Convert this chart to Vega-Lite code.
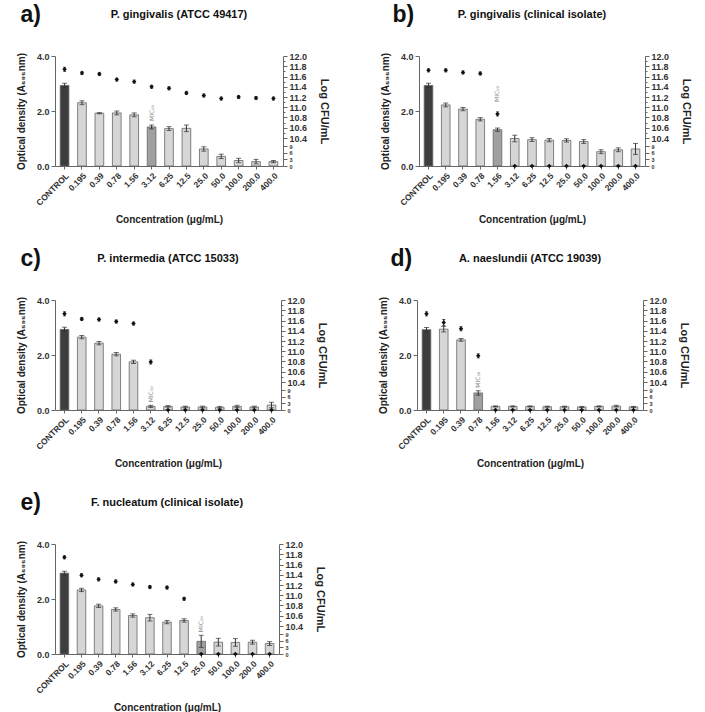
{
"$schema": "https://vega.github.io/schema/vega-lite/v6.json",
"padding": {"left": 16, "top": 4, "right": 2, "bottom": 4},
"background": "white",
"data": {"values": [
{"panel":"a","conc":"CONTROL","od":2.93,"od_err":0.08,"cfu":11.74,"cfu_err":0.04,"kind":"control","mic":false},
{"panel":"a","conc":"0.195","od":2.30,"od_err":0.07,"cfu":11.67,"cfu_err":0.03,"kind":"normal","mic":false},
{"panel":"a","conc":"0.39","od":1.92,"od_err":0.02,"cfu":11.65,"cfu_err":0.03,"kind":"normal","mic":false},
{"panel":"a","conc":"0.78","od":1.93,"od_err":0.07,"cfu":11.54,"cfu_err":0.03,"kind":"normal","mic":false},
{"panel":"a","conc":"1.56","od":1.86,"od_err":0.07,"cfu":11.50,"cfu_err":0.03,"kind":"normal","mic":false},
{"panel":"a","conc":"3.12","od":1.42,"od_err":0.07,"cfu":11.40,"cfu_err":0.03,"kind":"mic","mic":true},
{"panel":"a","conc":"6.25","od":1.36,"od_err":0.07,"cfu":11.37,"cfu_err":0.03,"kind":"normal","mic":false},
{"panel":"a","conc":"12.5","od":1.37,"od_err":0.12,"cfu":11.28,"cfu_err":0.03,"kind":"normal","mic":false},
{"panel":"a","conc":"25.0","od":0.62,"od_err":0.08,"cfu":11.23,"cfu_err":0.03,"kind":"normal","mic":false},
{"panel":"a","conc":"50.0","od":0.35,"od_err":0.08,"cfu":11.17,"cfu_err":0.03,"kind":"normal","mic":false},
{"panel":"a","conc":"100.0","od":0.20,"od_err":0.08,"cfu":11.20,"cfu_err":0.03,"kind":"normal","mic":false},
{"panel":"a","conc":"200.0","od":0.16,"od_err":0.08,"cfu":11.18,"cfu_err":0.03,"kind":"normal","mic":false},
{"panel":"a","conc":"400.0","od":0.16,"od_err":0.04,"cfu":11.17,"cfu_err":0.03,"kind":"normal","mic":false},
{"panel":"b","conc":"CONTROL","od":2.93,"od_err":0.08,"cfu":11.72,"cfu_err":0.03,"kind":"control","mic":false},
{"panel":"b","conc":"0.195","od":2.22,"od_err":0.07,"cfu":11.72,"cfu_err":0.03,"kind":"normal","mic":false},
{"panel":"b","conc":"0.39","od":2.07,"od_err":0.06,"cfu":11.68,"cfu_err":0.03,"kind":"normal","mic":false},
{"panel":"b","conc":"0.78","od":1.70,"od_err":0.06,"cfu":11.66,"cfu_err":0.03,"kind":"normal","mic":false},
{"panel":"b","conc":"1.56","od":1.32,"od_err":0.06,"cfu":10.87,"cfu_err":0.04,"kind":"mic","mic":true},
{"panel":"b","conc":"3.12","od":1.00,"od_err":0.12,"cfu":0,"cfu_err":0,"kind":"normal","mic":false},
{"panel":"b","conc":"6.25","od":0.96,"od_err":0.07,"cfu":0,"cfu_err":0,"kind":"normal","mic":false},
{"panel":"b","conc":"12.5","od":0.94,"od_err":0.06,"cfu":0,"cfu_err":0,"kind":"normal","mic":false},
{"panel":"b","conc":"25.0","od":0.93,"od_err":0.06,"cfu":0,"cfu_err":0,"kind":"normal","mic":false},
{"panel":"b","conc":"50.0","od":0.89,"od_err":0.07,"cfu":0,"cfu_err":0,"kind":"normal","mic":false},
{"panel":"b","conc":"100.0","od":0.52,"od_err":0.07,"cfu":0,"cfu_err":0,"kind":"normal","mic":false},
{"panel":"b","conc":"200.0","od":0.59,"od_err":0.07,"cfu":0,"cfu_err":0,"kind":"normal","mic":false},
{"panel":"b","conc":"400.0","od":0.62,"od_err":0.20,"cfu":0,"cfu_err":0,"kind":"normal","mic":false},
{"panel":"c","conc":"CONTROL","od":2.93,"od_err":0.08,"cfu":11.73,"cfu_err":0.04,"kind":"control","mic":false},
{"panel":"c","conc":"0.195","od":2.65,"od_err":0.06,"cfu":11.63,"cfu_err":0.03,"kind":"normal","mic":false},
{"panel":"c","conc":"0.39","od":2.43,"od_err":0.06,"cfu":11.62,"cfu_err":0.03,"kind":"normal","mic":false},
{"panel":"c","conc":"0.78","od":2.03,"od_err":0.06,"cfu":11.58,"cfu_err":0.03,"kind":"normal","mic":false},
{"panel":"c","conc":"1.56","od":1.75,"od_err":0.06,"cfu":11.54,"cfu_err":0.03,"kind":"normal","mic":false},
{"panel":"c","conc":"3.12","od":0.13,"od_err":0.04,"cfu":10.79,"cfu_err":0.04,"kind":"normal","mic":true},
{"panel":"c","conc":"6.25","od":0.13,"od_err":0.03,"cfu":0,"cfu_err":0,"kind":"normal","mic":false},
{"panel":"c","conc":"12.5","od":0.11,"od_err":0.03,"cfu":0,"cfu_err":0,"kind":"normal","mic":false},
{"panel":"c","conc":"25.0","od":0.11,"od_err":0.03,"cfu":0,"cfu_err":0,"kind":"normal","mic":false},
{"panel":"c","conc":"50.0","od":0.10,"od_err":0.03,"cfu":0,"cfu_err":0,"kind":"normal","mic":false},
{"panel":"c","conc":"100.0","od":0.13,"od_err":0.04,"cfu":0,"cfu_err":0,"kind":"normal","mic":false},
{"panel":"c","conc":"200.0","od":0.11,"od_err":0.03,"cfu":0,"cfu_err":0,"kind":"normal","mic":false},
{"panel":"c","conc":"400.0","od":0.18,"od_err":0.10,"cfu":0,"cfu_err":0,"kind":"normal","mic":false},
{"panel":"d","conc":"CONTROL","od":2.92,"od_err":0.08,"cfu":11.73,"cfu_err":0.04,"kind":"control","mic":false},
{"panel":"d","conc":"0.195","od":2.94,"od_err":0.10,"cfu":11.56,"cfu_err":0.06,"kind":"normal","mic":false},
{"panel":"d","conc":"0.39","od":2.55,"od_err":0.05,"cfu":11.44,"cfu_err":0.04,"kind":"normal","mic":false},
{"panel":"d","conc":"0.78","od":0.62,"od_err":0.08,"cfu":10.91,"cfu_err":0.04,"kind":"mic","mic":true},
{"panel":"d","conc":"1.56","od":0.13,"od_err":0.02,"cfu":0,"cfu_err":0,"kind":"normal","mic":false},
{"panel":"d","conc":"3.12","od":0.13,"od_err":0.02,"cfu":0,"cfu_err":0,"kind":"normal","mic":false},
{"panel":"d","conc":"6.25","od":0.13,"od_err":0.02,"cfu":0,"cfu_err":0,"kind":"normal","mic":false},
{"panel":"d","conc":"12.5","od":0.12,"od_err":0.02,"cfu":0,"cfu_err":0,"kind":"normal","mic":false},
{"panel":"d","conc":"25.0","od":0.12,"od_err":0.02,"cfu":0,"cfu_err":0,"kind":"normal","mic":false},
{"panel":"d","conc":"50.0","od":0.11,"od_err":0.02,"cfu":0,"cfu_err":0,"kind":"normal","mic":false},
{"panel":"d","conc":"100.0","od":0.13,"od_err":0.02,"cfu":0,"cfu_err":0,"kind":"normal","mic":false},
{"panel":"d","conc":"200.0","od":0.14,"od_err":0.03,"cfu":0,"cfu_err":0,"kind":"normal","mic":false},
{"panel":"d","conc":"400.0","od":0.11,"od_err":0.02,"cfu":0,"cfu_err":0,"kind":"normal","mic":false},
{"panel":"e","conc":"CONTROL","od":2.94,"od_err":0.07,"cfu":11.74,"cfu_err":0.03,"kind":"control","mic":false},
{"panel":"e","conc":"0.195","od":2.33,"od_err":0.06,"cfu":11.39,"cfu_err":0.03,"kind":"normal","mic":false},
{"panel":"e","conc":"0.39","od":1.75,"od_err":0.06,"cfu":11.31,"cfu_err":0.03,"kind":"normal","mic":false},
{"panel":"e","conc":"0.78","od":1.62,"od_err":0.06,"cfu":11.27,"cfu_err":0.03,"kind":"normal","mic":false},
{"panel":"e","conc":"1.56","od":1.40,"od_err":0.06,"cfu":11.21,"cfu_err":0.03,"kind":"normal","mic":false},
{"panel":"e","conc":"3.12","od":1.32,"od_err":0.12,"cfu":11.16,"cfu_err":0.03,"kind":"normal","mic":false},
{"panel":"e","conc":"6.25","od":1.16,"od_err":0.06,"cfu":11.15,"cfu_err":0.03,"kind":"normal","mic":false},
{"panel":"e","conc":"12.5","od":1.22,"od_err":0.06,"cfu":10.93,"cfu_err":0.03,"kind":"normal","mic":false},
{"panel":"e","conc":"25.0","od":0.46,"od_err":0.22,"cfu":0,"cfu_err":0,"kind":"mic","mic":true},
{"panel":"e","conc":"50.0","od":0.43,"od_err":0.14,"cfu":0,"cfu_err":0,"kind":"normal","mic":false},
{"panel":"e","conc":"100.0","od":0.42,"od_err":0.14,"cfu":0,"cfu_err":0,"kind":"normal","mic":false},
{"panel":"e","conc":"200.0","od":0.43,"od_err":0.07,"cfu":0,"cfu_err":0,"kind":"normal","mic":false},
{"panel":"e","conc":"400.0","od":0.38,"od_err":0.07,"cfu":0,"cfu_err":0,"kind":"normal","mic":false}
]},
"spacing": 23,
"vconcat": [
{"spacing": 50, "hconcat": [
{"title": {"text": "a)", "anchor": "start", "fontSize": 23, "offset": -18, "dx": 4},
 "vconcat": [{
  "title": {"text": "P. gingivalis (ATCC 49417)", "fontSize": 11, "offset": 32, "dx": 10},
  "width": 228, "height": 110,
  "transform": [{"filter": "datum.panel == 'a'"}],
  "layer": [
   {"layer": [
    {"mark": {"type": "bar", "stroke": "#666", "strokeWidth": 0.8},
     "encoding": {
      "x": {"field": "conc", "type": "nominal", "sort": ["CONTROL","0.195","0.39","0.78","1.56","3.12","6.25","12.5","25.0","50.0","100.0","200.0","400.0"], "scale": {"paddingInner": 0.5, "paddingOuter": 0.3}, "title": "Concentration (μg/mL)", "axis": {"labelAngle": -45, "labelFontSize": 8.5, "titleFontSize": 10, "titlePadding": 8, "tickSize": 3}},
      "y": {"field": "od", "type": "quantitative", "scale": {"domain": [0, 4], "nice": false}, "title": "Optical density (A₅₉₅nm)", "axis": {"values": [0,1,2,3,4], "format": ".1f", "labelFontSize": 9, "titleFontSize": 10, "titlePadding": 10, "tickSize": 4}},
      "fill": {"field": "kind", "type": "nominal", "scale": {"domain": ["control","mic","normal"], "range": ["#3d3d3d","#a0a0a0","#d6d6d6"]}, "legend": null}}},
    {"mark": {"type": "errorbar", "ticks": {"size": 5}, "color": "#333"},
     "encoding": {"x": {"field": "conc", "type": "nominal", "sort": ["CONTROL","0.195","0.39","0.78","1.56","3.12","6.25","12.5","25.0","50.0","100.0","200.0","400.0"]},
      "y": {"field": "od", "type": "quantitative", "title": "Optical density (A₅₉₅nm)"}, "yError": {"field": "od_err"}}},
    {"transform": [{"filter": "datum.mic"}, {"calculate": "datum.od + datum.od_err", "as": "od_top"}],
     "mark": {"type": "text", "angle": 270, "align": "left", "baseline": "middle", "dx": 4, "fontSize": 6, "font": "DejaVu Sans", "color": "#888", "text": "MIC₅₀"},
     "encoding": {"x": {"field": "conc", "type": "nominal", "sort": ["CONTROL","0.195","0.39","0.78","1.56","3.12","6.25","12.5","25.0","50.0","100.0","200.0","400.0"]},
      "y": {"field": "od_top", "type": "quantitative", "title": "Optical density (A₅₉₅nm)"}}}
   ]},
   {"layer": [
    {"mark": {"type": "point", "shape": "diamond", "filled": true, "size": 20, "color": "#111", "opacity": 1},
     "encoding": {"x": {"field": "conc", "type": "nominal", "sort": ["CONTROL","0.195","0.39","0.78","1.56","3.12","6.25","12.5","25.0","50.0","100.0","200.0","400.0"]},
      "y": {"field": "cfu", "type": "quantitative", "title": "Log CFU/mL", "scale": {"domain": [0, 9, 10.4, 12], "range": [110, 90, 82, 0], "nice": false, "zero": false},
       "axis": {"orient": "right", "values": [0,3,6,9,10.4,10.5,10.6,10.7,10.8,10.9,11.0,11.1,11.2,11.3,11.4,11.5,11.6,11.7,11.8,11.9,12.0], "labelExpr": "datum.value < 10 ? format(datum.value, 'd') : (round(datum.value*10) % 2 == 1 ? '' : format(datum.value, '.1f'))", "labelOverlap": false, "labelBound": false, "labelFlush": false, "labelFontSize": {"condition": {"test": "datum.value < 10", "value": 5.5}, "value": 9}, "tickSize": {"condition": {"test": "datum.value > 10 && round(datum.value*10) % 2 == 1", "value": 2}, "value": 4}, "titleFontSize": 11, "titlePadding": 12}}}},
    {"mark": {"type": "errorbar", "ticks": {"size": 3}, "color": "#111"},
     "encoding": {"x": {"field": "conc", "type": "nominal", "sort": ["CONTROL","0.195","0.39","0.78","1.56","3.12","6.25","12.5","25.0","50.0","100.0","200.0","400.0"]},
      "y": {"field": "cfu", "type": "quantitative", "title": "Log CFU/mL",
       "axis": {"orient": "right", "values": [0,3,6,9,10.4,10.5,10.6,10.7,10.8,10.9,11.0,11.1,11.2,11.3,11.4,11.5,11.6,11.7,11.8,11.9,12.0], "labelExpr": "datum.value < 10 ? format(datum.value, 'd') : (round(datum.value*10) % 2 == 1 ? '' : format(datum.value, '.1f'))", "labelOverlap": false, "labelBound": false, "labelFlush": false, "labelFontSize": {"condition": {"test": "datum.value < 10", "value": 5.5}, "value": 9}, "tickSize": {"condition": {"test": "datum.value > 10 && round(datum.value*10) % 2 == 1", "value": 2}, "value": 4}, "titleFontSize": 11, "titlePadding": 12}}, "yError": {"field": "cfu_err"}}}
   ]}
  ],
  "resolve": {"scale": {"y": "independent"}}
 }]},
{"title": {"text": "b)", "anchor": "start", "fontSize": 23, "offset": -18, "dx": 12},
 "vconcat": [{
  "title": {"text": "P. gingivalis (clinical isolate)", "fontSize": 11, "offset": 32},
  "width": 226, "height": 110,
  "transform": [{"filter": "datum.panel == 'b'"}],
  "layer": [
   {"layer": [
    {"mark": {"type": "bar", "stroke": "#666", "strokeWidth": 0.8},
     "encoding": {
      "x": {"field": "conc", "type": "nominal", "sort": ["CONTROL","0.195","0.39","0.78","1.56","3.12","6.25","12.5","25.0","50.0","100.0","200.0","400.0"], "scale": {"paddingInner": 0.5, "paddingOuter": 0.3}, "title": "Concentration (μg/mL)", "axis": {"labelAngle": -45, "labelFontSize": 8.5, "titleFontSize": 10, "titlePadding": 8, "tickSize": 3}},
      "y": {"field": "od", "type": "quantitative", "scale": {"domain": [0, 4], "nice": false}, "title": "Optical density (A₅₉₅nm)", "axis": {"values": [0,1,2,3,4], "format": ".1f", "labelFontSize": 9, "titleFontSize": 10, "titlePadding": 10, "tickSize": 4}},
      "fill": {"field": "kind", "type": "nominal", "scale": {"domain": ["control","mic","normal"], "range": ["#3d3d3d","#a0a0a0","#d6d6d6"]}, "legend": null}}},
    {"mark": {"type": "errorbar", "ticks": {"size": 5}, "color": "#333"},
     "encoding": {"x": {"field": "conc", "type": "nominal", "sort": ["CONTROL","0.195","0.39","0.78","1.56","3.12","6.25","12.5","25.0","50.0","100.0","200.0","400.0"]},
      "y": {"field": "od", "type": "quantitative", "title": "Optical density (A₅₉₅nm)"}, "yError": {"field": "od_err"}}},
    {"transform": [{"filter": "datum.mic"}, {"calculate": "datum.od + datum.od_err", "as": "od_top"}],
     "mark": {"type": "text", "angle": 270, "align": "left", "baseline": "middle", "dx": 26, "fontSize": 6, "font": "DejaVu Sans", "color": "#888", "text": "MIC₅₀"},
     "encoding": {"x": {"field": "conc", "type": "nominal", "sort": ["CONTROL","0.195","0.39","0.78","1.56","3.12","6.25","12.5","25.0","50.0","100.0","200.0","400.0"]},
      "y": {"field": "od_top", "type": "quantitative", "title": "Optical density (A₅₉₅nm)"}}}
   ]},
   {"layer": [
    {"mark": {"type": "point", "shape": "diamond", "filled": true, "size": 20, "color": "#111", "opacity": 1},
     "encoding": {"x": {"field": "conc", "type": "nominal", "sort": ["CONTROL","0.195","0.39","0.78","1.56","3.12","6.25","12.5","25.0","50.0","100.0","200.0","400.0"]},
      "y": {"field": "cfu", "type": "quantitative", "title": "Log CFU/mL", "scale": {"domain": [0, 9, 10.4, 12], "range": [110, 90, 82, 0], "nice": false, "zero": false},
       "axis": {"orient": "right", "values": [0,3,6,9,10.4,10.5,10.6,10.7,10.8,10.9,11.0,11.1,11.2,11.3,11.4,11.5,11.6,11.7,11.8,11.9,12.0], "labelExpr": "datum.value < 10 ? format(datum.value, 'd') : (round(datum.value*10) % 2 == 1 ? '' : format(datum.value, '.1f'))", "labelOverlap": false, "labelBound": false, "labelFlush": false, "labelFontSize": {"condition": {"test": "datum.value < 10", "value": 5.5}, "value": 9}, "tickSize": {"condition": {"test": "datum.value > 10 && round(datum.value*10) % 2 == 1", "value": 2}, "value": 4}, "titleFontSize": 11, "titlePadding": 12}}}},
    {"mark": {"type": "errorbar", "ticks": {"size": 3}, "color": "#111"},
     "encoding": {"x": {"field": "conc", "type": "nominal", "sort": ["CONTROL","0.195","0.39","0.78","1.56","3.12","6.25","12.5","25.0","50.0","100.0","200.0","400.0"]},
      "y": {"field": "cfu", "type": "quantitative", "title": "Log CFU/mL",
       "axis": {"orient": "right", "values": [0,3,6,9,10.4,10.5,10.6,10.7,10.8,10.9,11.0,11.1,11.2,11.3,11.4,11.5,11.6,11.7,11.8,11.9,12.0], "labelExpr": "datum.value < 10 ? format(datum.value, 'd') : (round(datum.value*10) % 2 == 1 ? '' : format(datum.value, '.1f'))", "labelOverlap": false, "labelBound": false, "labelFlush": false, "labelFontSize": {"condition": {"test": "datum.value < 10", "value": 5.5}, "value": 9}, "tickSize": {"condition": {"test": "datum.value > 10 && round(datum.value*10) % 2 == 1", "value": 2}, "value": 4}, "titleFontSize": 11, "titlePadding": 12}}, "yError": {"field": "cfu_err"}}}
   ]}
  ],
  "resolve": {"scale": {"y": "independent"}}
 }]}
]},
{"spacing": 50, "hconcat": [
{"title": {"text": "c)", "anchor": "start", "fontSize": 23, "offset": -18, "dx": 4},
 "vconcat": [{
  "title": {"text": "P. intermedia (ATCC 15033)", "fontSize": 11, "offset": 32},
  "width": 226, "height": 110,
  "transform": [{"filter": "datum.panel == 'c'"}],
  "layer": [
   {"layer": [
    {"mark": {"type": "bar", "stroke": "#666", "strokeWidth": 0.8},
     "encoding": {
      "x": {"field": "conc", "type": "nominal", "sort": ["CONTROL","0.195","0.39","0.78","1.56","3.12","6.25","12.5","25.0","50.0","100.0","200.0","400.0"], "scale": {"paddingInner": 0.5, "paddingOuter": 0.3}, "title": "Concentration (μg/mL)", "axis": {"labelAngle": -45, "labelFontSize": 8.5, "titleFontSize": 10, "titlePadding": 8, "tickSize": 3}},
      "y": {"field": "od", "type": "quantitative", "scale": {"domain": [0, 4], "nice": false}, "title": "Optical density (A₅₉₅nm)", "axis": {"values": [0,1,2,3,4], "format": ".1f", "labelFontSize": 9, "titleFontSize": 10, "titlePadding": 10, "tickSize": 4}},
      "fill": {"field": "kind", "type": "nominal", "scale": {"domain": ["control","mic","normal"], "range": ["#3d3d3d","#a0a0a0","#d6d6d6"]}, "legend": null}}},
    {"mark": {"type": "errorbar", "ticks": {"size": 5}, "color": "#333"},
     "encoding": {"x": {"field": "conc", "type": "nominal", "sort": ["CONTROL","0.195","0.39","0.78","1.56","3.12","6.25","12.5","25.0","50.0","100.0","200.0","400.0"]},
      "y": {"field": "od", "type": "quantitative", "title": "Optical density (A₅₉₅nm)"}, "yError": {"field": "od_err"}}},
    {"transform": [{"filter": "datum.mic"}, {"calculate": "datum.od + datum.od_err", "as": "od_top"}],
     "mark": {"type": "text", "angle": 270, "align": "left", "baseline": "middle", "dx": 3, "fontSize": 6, "font": "DejaVu Sans", "color": "#888", "text": "MIC₅₀"},
     "encoding": {"x": {"field": "conc", "type": "nominal", "sort": ["CONTROL","0.195","0.39","0.78","1.56","3.12","6.25","12.5","25.0","50.0","100.0","200.0","400.0"]},
      "y": {"field": "od_top", "type": "quantitative", "title": "Optical density (A₅₉₅nm)"}}}
   ]},
   {"layer": [
    {"mark": {"type": "point", "shape": "diamond", "filled": true, "size": 20, "color": "#111", "opacity": 1},
     "encoding": {"x": {"field": "conc", "type": "nominal", "sort": ["CONTROL","0.195","0.39","0.78","1.56","3.12","6.25","12.5","25.0","50.0","100.0","200.0","400.0"]},
      "y": {"field": "cfu", "type": "quantitative", "title": "Log CFU/mL", "scale": {"domain": [0, 9, 10.4, 12], "range": [110, 90, 82, 0], "nice": false, "zero": false},
       "axis": {"orient": "right", "values": [0,3,6,9,10.4,10.5,10.6,10.7,10.8,10.9,11.0,11.1,11.2,11.3,11.4,11.5,11.6,11.7,11.8,11.9,12.0], "labelExpr": "datum.value < 10 ? format(datum.value, 'd') : (round(datum.value*10) % 2 == 1 ? '' : format(datum.value, '.1f'))", "labelOverlap": false, "labelBound": false, "labelFlush": false, "labelFontSize": {"condition": {"test": "datum.value < 10", "value": 5.5}, "value": 9}, "tickSize": {"condition": {"test": "datum.value > 10 && round(datum.value*10) % 2 == 1", "value": 2}, "value": 4}, "titleFontSize": 11, "titlePadding": 12}}}},
    {"mark": {"type": "errorbar", "ticks": {"size": 3}, "color": "#111"},
     "encoding": {"x": {"field": "conc", "type": "nominal", "sort": ["CONTROL","0.195","0.39","0.78","1.56","3.12","6.25","12.5","25.0","50.0","100.0","200.0","400.0"]},
      "y": {"field": "cfu", "type": "quantitative", "title": "Log CFU/mL",
       "axis": {"orient": "right", "values": [0,3,6,9,10.4,10.5,10.6,10.7,10.8,10.9,11.0,11.1,11.2,11.3,11.4,11.5,11.6,11.7,11.8,11.9,12.0], "labelExpr": "datum.value < 10 ? format(datum.value, 'd') : (round(datum.value*10) % 2 == 1 ? '' : format(datum.value, '.1f'))", "labelOverlap": false, "labelBound": false, "labelFlush": false, "labelFontSize": {"condition": {"test": "datum.value < 10", "value": 5.5}, "value": 9}, "tickSize": {"condition": {"test": "datum.value > 10 && round(datum.value*10) % 2 == 1", "value": 2}, "value": 4}, "titleFontSize": 11, "titlePadding": 12}}, "yError": {"field": "cfu_err"}}}
   ]}
  ],
  "resolve": {"scale": {"y": "independent"}}
 }]},
{"title": {"text": "d)", "anchor": "start", "fontSize": 23, "offset": -18, "dx": 12},
 "vconcat": [{
  "title": {"text": "A. naeslundii (ATCC 19039)", "fontSize": 11, "offset": 32},
  "width": 226, "height": 110,
  "transform": [{"filter": "datum.panel == 'd'"}],
  "layer": [
   {"layer": [
    {"mark": {"type": "bar", "stroke": "#666", "strokeWidth": 0.8},
     "encoding": {
      "x": {"field": "conc", "type": "nominal", "sort": ["CONTROL","0.195","0.39","0.78","1.56","3.12","6.25","12.5","25.0","50.0","100.0","200.0","400.0"], "scale": {"paddingInner": 0.5, "paddingOuter": 0.3}, "title": "Concentration (μg/mL)", "axis": {"labelAngle": -45, "labelFontSize": 8.5, "titleFontSize": 10, "titlePadding": 8, "tickSize": 3}},
      "y": {"field": "od", "type": "quantitative", "scale": {"domain": [0, 4], "nice": false}, "title": "Optical density (A₅₉₅nm)", "axis": {"values": [0,1,2,3,4], "format": ".1f", "labelFontSize": 9, "titleFontSize": 10, "titlePadding": 10, "tickSize": 4}},
      "fill": {"field": "kind", "type": "nominal", "scale": {"domain": ["control","mic","normal"], "range": ["#3d3d3d","#a0a0a0","#d6d6d6"]}, "legend": null}}},
    {"mark": {"type": "errorbar", "ticks": {"size": 5}, "color": "#333"},
     "encoding": {"x": {"field": "conc", "type": "nominal", "sort": ["CONTROL","0.195","0.39","0.78","1.56","3.12","6.25","12.5","25.0","50.0","100.0","200.0","400.0"]},
      "y": {"field": "od", "type": "quantitative", "title": "Optical density (A₅₉₅nm)"}, "yError": {"field": "od_err"}}},
    {"transform": [{"filter": "datum.mic"}, {"calculate": "datum.od + datum.od_err", "as": "od_top"}],
     "mark": {"type": "text", "angle": 270, "align": "left", "baseline": "middle", "dx": 3, "fontSize": 6, "font": "DejaVu Sans", "color": "#888", "text": "MIC₅₀"},
     "encoding": {"x": {"field": "conc", "type": "nominal", "sort": ["CONTROL","0.195","0.39","0.78","1.56","3.12","6.25","12.5","25.0","50.0","100.0","200.0","400.0"]},
      "y": {"field": "od_top", "type": "quantitative", "title": "Optical density (A₅₉₅nm)"}}}
   ]},
   {"layer": [
    {"mark": {"type": "point", "shape": "diamond", "filled": true, "size": 20, "color": "#111", "opacity": 1},
     "encoding": {"x": {"field": "conc", "type": "nominal", "sort": ["CONTROL","0.195","0.39","0.78","1.56","3.12","6.25","12.5","25.0","50.0","100.0","200.0","400.0"]},
      "y": {"field": "cfu", "type": "quantitative", "title": "Log CFU/mL", "scale": {"domain": [0, 9, 10.4, 12], "range": [110, 90, 82, 0], "nice": false, "zero": false},
       "axis": {"orient": "right", "values": [0,3,6,9,10.4,10.5,10.6,10.7,10.8,10.9,11.0,11.1,11.2,11.3,11.4,11.5,11.6,11.7,11.8,11.9,12.0], "labelExpr": "datum.value < 10 ? format(datum.value, 'd') : (round(datum.value*10) % 2 == 1 ? '' : format(datum.value, '.1f'))", "labelOverlap": false, "labelBound": false, "labelFlush": false, "labelFontSize": {"condition": {"test": "datum.value < 10", "value": 5.5}, "value": 9}, "tickSize": {"condition": {"test": "datum.value > 10 && round(datum.value*10) % 2 == 1", "value": 2}, "value": 4}, "titleFontSize": 11, "titlePadding": 12}}}},
    {"mark": {"type": "errorbar", "ticks": {"size": 3}, "color": "#111"},
     "encoding": {"x": {"field": "conc", "type": "nominal", "sort": ["CONTROL","0.195","0.39","0.78","1.56","3.12","6.25","12.5","25.0","50.0","100.0","200.0","400.0"]},
      "y": {"field": "cfu", "type": "quantitative", "title": "Log CFU/mL",
       "axis": {"orient": "right", "values": [0,3,6,9,10.4,10.5,10.6,10.7,10.8,10.9,11.0,11.1,11.2,11.3,11.4,11.5,11.6,11.7,11.8,11.9,12.0], "labelExpr": "datum.value < 10 ? format(datum.value, 'd') : (round(datum.value*10) % 2 == 1 ? '' : format(datum.value, '.1f'))", "labelOverlap": false, "labelBound": false, "labelFlush": false, "labelFontSize": {"condition": {"test": "datum.value < 10", "value": 5.5}, "value": 9}, "tickSize": {"condition": {"test": "datum.value > 10 && round(datum.value*10) % 2 == 1", "value": 2}, "value": 4}, "titleFontSize": 11, "titlePadding": 12}}, "yError": {"field": "cfu_err"}}}
   ]}
  ],
  "resolve": {"scale": {"y": "independent"}}
 }]}
]},
{"hconcat": [
{"title": {"text": "e)", "anchor": "start", "fontSize": 23, "offset": -18, "dx": 4},
 "vconcat": [{
  "title": {"text": "F. nucleatum (clinical isolate)", "fontSize": 11, "offset": 32},
  "width": 224, "height": 110,
  "transform": [{"filter": "datum.panel == 'e'"}],
  "layer": [
   {"layer": [
    {"mark": {"type": "bar", "stroke": "#666", "strokeWidth": 0.8},
     "encoding": {
      "x": {"field": "conc", "type": "nominal", "sort": ["CONTROL","0.195","0.39","0.78","1.56","3.12","6.25","12.5","25.0","50.0","100.0","200.0","400.0"], "scale": {"paddingInner": 0.5, "paddingOuter": 0.3}, "title": "Concentration (μg/mL)", "axis": {"labelAngle": -45, "labelFontSize": 8.5, "titleFontSize": 10, "titlePadding": 8, "tickSize": 3}},
      "y": {"field": "od", "type": "quantitative", "scale": {"domain": [0, 4], "nice": false}, "title": "Optical density (A₅₉₅nm)", "axis": {"values": [0,1,2,3,4], "format": ".1f", "labelFontSize": 9, "titleFontSize": 10, "titlePadding": 10, "tickSize": 4}},
      "fill": {"field": "kind", "type": "nominal", "scale": {"domain": ["control","mic","normal"], "range": ["#3d3d3d","#a0a0a0","#d6d6d6"]}, "legend": null}}},
    {"mark": {"type": "errorbar", "ticks": {"size": 5}, "color": "#333"},
     "encoding": {"x": {"field": "conc", "type": "nominal", "sort": ["CONTROL","0.195","0.39","0.78","1.56","3.12","6.25","12.5","25.0","50.0","100.0","200.0","400.0"]},
      "y": {"field": "od", "type": "quantitative", "title": "Optical density (A₅₉₅nm)"}, "yError": {"field": "od_err"}}},
    {"transform": [{"filter": "datum.mic"}, {"calculate": "datum.od + datum.od_err", "as": "od_top"}],
     "mark": {"type": "text", "angle": 270, "align": "left", "baseline": "middle", "dx": 3, "fontSize": 6, "font": "DejaVu Sans", "color": "#888", "text": "MIC₅₀"},
     "encoding": {"x": {"field": "conc", "type": "nominal", "sort": ["CONTROL","0.195","0.39","0.78","1.56","3.12","6.25","12.5","25.0","50.0","100.0","200.0","400.0"]},
      "y": {"field": "od_top", "type": "quantitative", "title": "Optical density (A₅₉₅nm)"}}}
   ]},
   {"layer": [
    {"mark": {"type": "point", "shape": "diamond", "filled": true, "size": 20, "color": "#111", "opacity": 1},
     "encoding": {"x": {"field": "conc", "type": "nominal", "sort": ["CONTROL","0.195","0.39","0.78","1.56","3.12","6.25","12.5","25.0","50.0","100.0","200.0","400.0"]},
      "y": {"field": "cfu", "type": "quantitative", "title": "Log CFU/mL", "scale": {"domain": [0, 9, 10.4, 12], "range": [110, 90, 82, 0], "nice": false, "zero": false},
       "axis": {"orient": "right", "values": [0,3,6,9,10.4,10.5,10.6,10.7,10.8,10.9,11.0,11.1,11.2,11.3,11.4,11.5,11.6,11.7,11.8,11.9,12.0], "labelExpr": "datum.value < 10 ? format(datum.value, 'd') : (round(datum.value*10) % 2 == 1 ? '' : format(datum.value, '.1f'))", "labelOverlap": false, "labelBound": false, "labelFlush": false, "labelFontSize": {"condition": {"test": "datum.value < 10", "value": 5.5}, "value": 9}, "tickSize": {"condition": {"test": "datum.value > 10 && round(datum.value*10) % 2 == 1", "value": 2}, "value": 4}, "titleFontSize": 11, "titlePadding": 12}}}},
    {"mark": {"type": "errorbar", "ticks": {"size": 3}, "color": "#111"},
     "encoding": {"x": {"field": "conc", "type": "nominal", "sort": ["CONTROL","0.195","0.39","0.78","1.56","3.12","6.25","12.5","25.0","50.0","100.0","200.0","400.0"]},
      "y": {"field": "cfu", "type": "quantitative", "title": "Log CFU/mL",
       "axis": {"orient": "right", "values": [0,3,6,9,10.4,10.5,10.6,10.7,10.8,10.9,11.0,11.1,11.2,11.3,11.4,11.5,11.6,11.7,11.8,11.9,12.0], "labelExpr": "datum.value < 10 ? format(datum.value, 'd') : (round(datum.value*10) % 2 == 1 ? '' : format(datum.value, '.1f'))", "labelOverlap": false, "labelBound": false, "labelFlush": false, "labelFontSize": {"condition": {"test": "datum.value < 10", "value": 5.5}, "value": 9}, "tickSize": {"condition": {"test": "datum.value > 10 && round(datum.value*10) % 2 == 1", "value": 2}, "value": 4}, "titleFontSize": 11, "titlePadding": 12}}, "yError": {"field": "cfu_err"}}}
   ]}
  ],
  "resolve": {"scale": {"y": "independent"}}
 }]}
]}
],
"config": {
 "view": {"stroke": null},
 "font": "Liberation Sans",
 "axis": {"labelFont": "Liberation Sans", "titleFont": "Liberation Sans", "labelFontWeight": "bold", "titleFontWeight": "bold", "labelColor": "#333", "titleColor": "#222", "domainColor": "#666", "tickColor": "#666", "grid": false, "labelPadding": 2},
 "title": {"font": "Liberation Sans", "fontWeight": "bold", "color": "#111"}
}
}
